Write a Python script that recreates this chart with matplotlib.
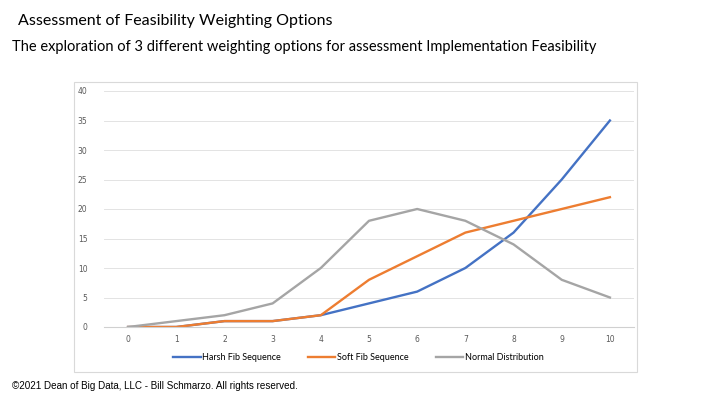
import matplotlib
matplotlib.use("Agg")
import matplotlib.pyplot as plt
from matplotlib.patches import Rectangle

x = list(range(11))
harsh = [0, 0, 1, 1, 2, 4, 6, 10, 16, 25, 35]
soft = [0, 0, 1, 1, 2, 8, 12, 16, 18, 20, 22]
normal = [0, 1, 2, 4, 10, 18, 20, 18, 14, 8, 5]

fig = plt.figure(figsize=(7.1, 3.99), dpi=100)
fig.patch.set_facecolor("white")

# chart frame (light gray box like the Excel chart object)
fig.add_artist(Rectangle((74 / 710, 1 - 372 / 399), (637 - 74) / 710, (372 - 82) / 399,
                         transform=fig.transFigure, fill=False, edgecolor="#d9d9d9", lw=0.8))

ax = fig.add_axes([104 / 710, 1 - 327 / 399, 530 / 710, 236 / 399])
ax.plot(x, harsh, color="#4472C4", lw=1.7, label="Harsh Fib Sequence")
ax.plot(x, soft, color="#ED7D31", lw=1.7, label="Soft Fib Sequence")
ax.plot(x, normal, color="#A5A5A5", lw=1.7, label="Normal Distribution")

ax.set_xlim(-0.5, 10.5)
ax.set_ylim(0, 40)
ax.set_yticks(range(0, 41, 5))
ax.set_xticks(x)
ax.grid(axis="y", color="#e3e3e3", lw=0.7)
ax.set_axisbelow(True)
for s in ["top", "right", "left"]:
    ax.spines[s].set_visible(False)
ax.spines["bottom"].set_color("#d0d0d0")
ax.tick_params(length=0, labelsize=5.5, labelcolor="#595959", pad=6)
ax.tick_params(axis="y", pad=12)

ax.legend(loc="upper center", bbox_to_anchor=(0.48, -0.075), ncol=3, frameon=False,
          handlelength=3, columnspacing=3, handletextpad=0.2,
          prop={"family": "Lato", "size": 6.5})

fig.text(18 / 710, 1 - 21 / 399, "Assessment of Feasibility Weighting Options",
         fontsize=11.5, family="Lato", va="center", ha="left")
fig.text(12 / 710, 1 - 47 / 399,
         "The exploration of 3 different weighting options for assessment Implementation Feasibility",
         fontsize=10.55, family="Lato", va="center", ha="left")
fig.text(12 / 710, 1 - 386 / 399,
         "\u00a92021 Dean of Big Data, LLC - Bill Schmarzo. All rights reserved.",
         fontsize=7.1, family="Liberation Sans", va="center", ha="left")

fig.savefig("out.png", dpi=100)
